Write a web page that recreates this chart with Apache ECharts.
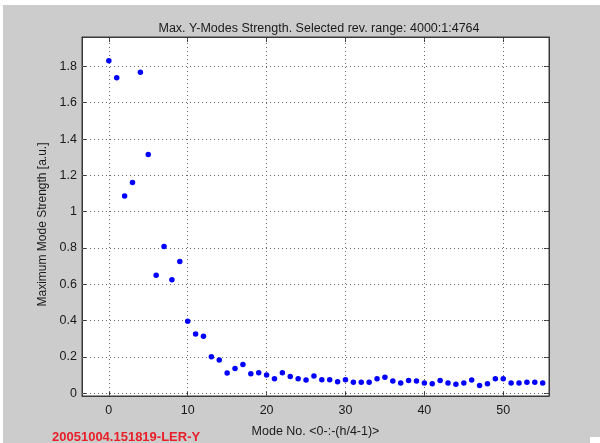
<!DOCTYPE html>
<html>
<head>
<meta charset="utf-8">
<script src="https://cdn.jsdelivr.net/npm/echarts@6/dist/echarts.min.js"></script>
<style>
html,body{margin:0;padding:0;background:#fff;width:600px;height:443px;overflow:hidden;}
#bg{position:absolute;left:3px;top:5px;width:597px;height:438px;background:#cccccc;}
#corner{position:absolute;left:590px;top:437px;width:10px;height:6px;background:#fff;}
#chart{position:absolute;left:0;top:0;width:600px;height:443px;}
</style>
</head>
<body>
<div id="bg"></div>
<div id="corner"></div>
<div id="chart"></div>
<script>
// Mode numbers 0..55
const modes = [0,1,2,3,4,5,6,7,8,9,10,11,12,13,14,15,16,17,18,19,20,21,22,23,24,25,26,27,28,29,30,31,32,33,34,35,36,37,38,39,40,41,42,43,44,45,46,47,48,49,50,51,52,53,54,55];
// Maximum mode strength [a.u.]
const strength = [1.831,1.737,1.087,1.161,1.768,1.315,0.650,0.808,0.625,0.726,
  0.397,0.327,0.314,0.201,0.183,0.111,0.136,0.158,0.107,0.113,
  0.100,0.080,0.113,0.093,0.080,0.073,0.095,0.075,0.075,0.063,
  0.075,0.061,0.061,0.061,0.080,0.088,0.068,0.057,0.070,0.068,
  0.057,0.052,0.070,0.056,0.050,0.057,0.073,0.043,0.052,0.080,
  0.080,0.056,0.056,0.061,0.061,0.056];
const xTicks = [0,10,20,30,40,50];
const yTicks = [0,0.2,0.4,0.6,0.8,1,1.2,1.4,1.6,1.8];
const titleText = 'Max. Y-Modes Strength. Selected rev. range: 4000:1:4764';
const xName = 'Mode No. <0-:-(h/4-1)>';
const yName = 'Maximum Mode Strength [a.u.]';
const stamp = '20051004.151819-LER-Y';

const X_MIN = -3.4, X_MAX = 55.8, Y_MIN = -0.015, Y_MAX = 1.962;
const FONT = '"Liberation Sans", Arial, sans-serif';
const axisCol = '#3a3a3a';

function mkX(pos, labels) {
  return {
    type: 'value', position: pos, min: X_MIN, max: X_MAX,
    axisLine: { show: true, onZero: false, lineStyle: { color: axisCol, width: 1 } },
    axisTick: { show: true, inside: true, length: 5, customValues: xTicks, lineStyle: { color: axisCol } },
    axisLabel: { show: labels, customValues: xTicks, margin: 8, color: '#1a1a1a', fontSize: 12.5, fontFamily: FONT },
    splitLine: { show: false },
    name: labels ? xName : '', nameLocation: 'middle', nameGap: 29,
    nameTextStyle: { color: '#1a1a1a', fontSize: 12.5, fontFamily: FONT }
  };
}
function mkY(pos, labels) {
  return {
    type: 'value', position: pos, min: Y_MIN, max: Y_MAX,
    axisLine: { show: true, onZero: false, lineStyle: { color: axisCol, width: 1 } },
    axisTick: { show: true, inside: true, length: 5, customValues: yTicks, lineStyle: { color: axisCol } },
    axisLabel: { show: labels, customValues: yTicks, margin: 5, color: '#1a1a1a', fontSize: 12.5, fontFamily: FONT },
    splitLine: { show: false },
    name: labels ? yName : '', nameLocation: 'middle', nameGap: 32,
    nameTextStyle: { color: '#1a1a1a', fontSize: 12, fontFamily: FONT, padding: [0, 16, 0, 0] }
  };
}

const gridLineStyle = { color: '#6a6a6a', width: 1, type: [1, 3] };
const markData = xTicks.map(v => ({ xAxis: v })).concat(yTicks.map(v => ({ yAxis: v })));

const chart = echarts.init(document.getElementById('chart'), null, { renderer: 'canvas' });
chart.setOption({
  backgroundColor: 'transparent',
  animation: false,
  title: {
    text: titleText, left: 314, top: 17, textAlign: 'center',
    textStyle: { fontSize: 12.5, fontWeight: 'normal', color: '#1a1a1a', fontFamily: FONT }
  },
  grid: { left: 82, right: 51, top: 37, bottom: 40, show: true, backgroundColor: '#ffffff', borderColor: axisCol, borderWidth: 1 },
  xAxis: [mkX('bottom', true), mkX('top', false)],
  yAxis: [mkY('left', true), mkY('right', false)],
  graphic: [{
    type: 'text', left: 52, top: 431,
    style: { text: stamp, fill: '#e8202a', font: 'bold 13px ' + FONT }
  }],
  series: [{
    type: 'scatter', xAxisIndex: 0, yAxisIndex: 0,
    data: modes.map((m, i) => [m, strength[i]]),
    symbol: 'circle', symbolSize: 5.5,
    itemStyle: { color: '#0000ff', opacity: 1 },
    markLine: {
      silent: true, symbol: 'none', animation: false,
      label: { show: false },
      lineStyle: gridLineStyle,
      data: markData
    },
    z: 5
  }]
});
</script>
</body>
</html>
